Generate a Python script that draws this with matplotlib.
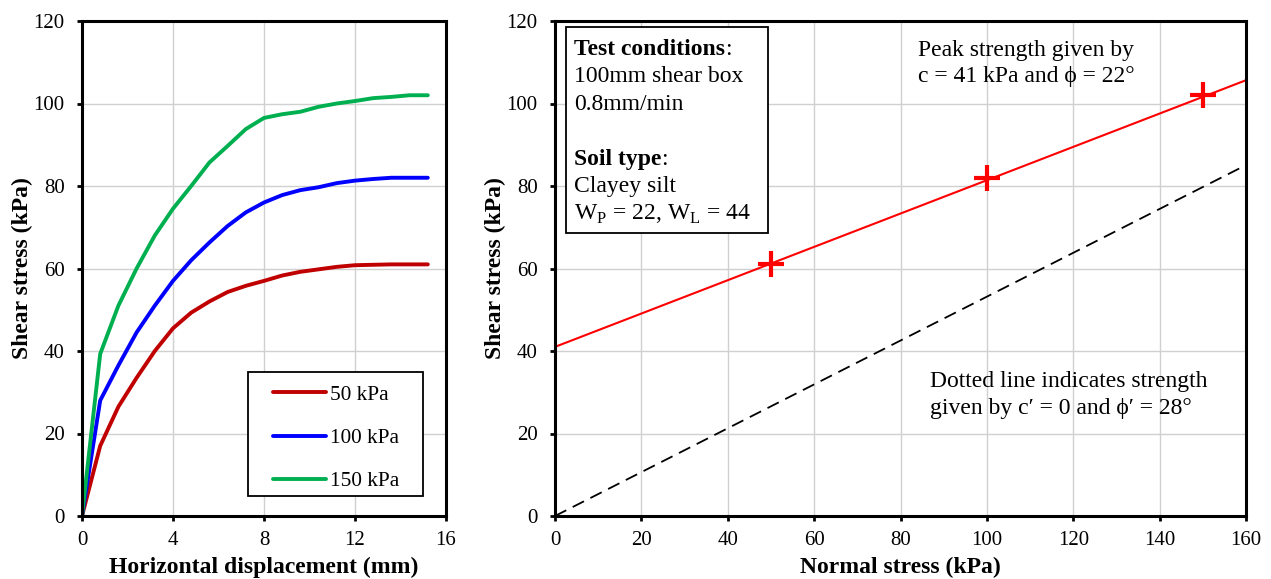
import numpy as np
import matplotlib
matplotlib.use('Agg')
import matplotlib.pyplot as plt
from matplotlib.patches import Rectangle

plt.rcParams['font.family'] = ['Liberation Serif', 'DejaVu Serif']
plt.rcParams['mathtext.fontset'] = 'custom'
plt.rcParams['mathtext.rm'] = 'Liberation Serif'
plt.rcParams['font.size'] = 15

# horizontal displacement (mm)
disp = [0, 0.8, 1.6, 2.4, 3.2, 4.0, 4.8, 5.6, 6.4, 7.2, 8.0, 8.8, 9.6, 10.4,
        11.2, 12.0, 12.8, 13.6, 14.4, 15.2]
tau_50 = [0, 17, 26.5, 33.5, 40, 45.5, 49.3, 52, 54.3, 55.8, 57, 58.3, 59.2,
          59.8, 60.4, 60.8, 60.9, 61, 61, 61]
tau_100 = [0, 28, 36.5, 44.5, 51, 57, 62, 66.3, 70.3, 73.6, 76, 77.8, 79,
           79.7, 80.7, 81.3, 81.7, 82, 82, 82]
tau_150 = [0, 39.3, 51, 60, 68, 74.5, 80, 85.7, 89.7, 93.8, 96.5, 97.4, 98,
           99.2, 100, 100.6, 101.3, 101.6, 102, 102]
series_labels = ['50 kPa', '100 kPa', '150 kPa']
series_colors = ['#C00000', '#0000FF', '#00B050']

# peak points
normal = [50, 100, 150]
peak = [61, 82, 102]
c_peak, phi_peak = 41, 22
c_eff, phi_eff = 0, 28

fig = plt.figure(figsize=(12.71, 5.79), dpi=100)
ax1 = fig.add_axes([82 / 1271, 1 - 516 / 579, 364 / 1271, 495 / 579])
ax2 = fig.add_axes([555 / 1271, 1 - 516 / 579, 691 / 1271, 495 / 579])


def style(ax):
    for s in ax.spines.values():
        s.set_linewidth(2.2)
    ax.tick_params(direction='out', length=3.5, width=2, labelsize=15, pad=9)
    ax.tick_params(axis='x', pad=7)
    ax.grid(True, color='#D0D0D0', linewidth=1)
    ax.set_axisbelow(True)


for y, lab, col in zip([tau_50, tau_100, tau_150], series_labels, series_colors):
    ax1.plot(disp, y, color=col, lw=2.8, label=lab, solid_capstyle='round')
ax1.set_xlim(0, 16)
ax1.set_ylim(0, 120)
ax1.set_xticks(np.arange(0, 17, 4))
ax1.set_yticks(np.arange(0, 121, 20))
ax1.set_xlabel('Horizontal displacement (mm)', fontweight='bold', fontsize=17, labelpad=5)
ax1.set_ylabel('Shear stress (kPa)', fontweight='bold', fontsize=17, labelpad=0)
style(ax1)
# legend frame drawn separately so its margins match
ax1.add_patch(Rectangle((0.456, 0.040), 0.481, 0.251, transform=ax1.transAxes,
                        facecolor='white', edgecolor='black', lw=1.3, zorder=4))
leg = ax1.legend(loc='upper left', bbox_to_anchor=(0.495, 0.286), frameon=False,
                 handlelength=2.5, labelspacing=1.1, borderpad=0,
                 handletextpad=0.2, fontsize=15.3)
leg.set_zorder(5)

xs = np.array([0, 160])
ax2.plot(xs, c_peak + xs * np.tan(np.radians(phi_peak)), color='#FF0000', lw=1.5)
ax2.plot(xs, c_eff + xs * np.tan(np.radians(phi_eff)), color='black', lw=1.3,
         dashes=(7, 4))
ax2.plot(normal, peak, ls='none', marker='+', color='#FF0000', ms=19, mew=3)
ax2.set_xlim(0, 160)
ax2.set_ylim(0, 120)
ax2.set_xticks(np.arange(0, 161, 20))
ax2.set_yticks(np.arange(0, 121, 20))
ax2.set_xlabel('Normal stress (kPa)', fontweight='bold', fontsize=17, labelpad=5)
ax2.set_ylabel('Shear stress (kPa)', fontweight='bold', fontsize=17, labelpad=0)
style(ax2)

ax2.add_patch(Rectangle((0.016, 0.572), 0.292, 0.416, transform=ax2.transAxes,
                        facecolor='white', edgecolor='black', lw=1.3, zorder=5))
tx = 0.027
fs = 17
lines = [(0.943, 'Test conditions', True), (0.887, '100mm shear box', False),
         (0.831, '0.8mm/min', False), (0.720, 'Soil type', True),
         (0.665, 'Clayey silt', False)]
for yy, s, b in lines:
    t = ax2.text(tx, yy, s, transform=ax2.transAxes, fontsize=fs, va='center',
                 fontweight='bold' if b else 'normal', zorder=6)
    if b:
        fig.canvas.draw()
        bb = t.get_window_extent().transformed(ax2.transAxes.inverted())
        ax2.text(bb.x1, yy, ':', transform=ax2.transAxes, fontsize=fs, va='center', zorder=6)
ax2.text(tx, 0.610, r'W$_\mathregular{P}$ = 22, W$_\mathregular{L}$ = 44',
         transform=ax2.transAxes, fontsize=fs, va='center', zorder=6)

ax2.text(0.525, 0.962, 'Peak strength given by\nc = 41 kPa and \u03d5 = 22\u00b0',
         transform=ax2.transAxes, fontsize=fs, va='top', linespacing=1.32)
ax2.text(0.543, 0.292, 'Dotted line indicates strength\ngiven by c\u2032 = 0 and \u03d5\u2032 = 28\u00b0',
         transform=ax2.transAxes, fontsize=fs, va='top', linespacing=1.32)

fig.savefig('out.png', dpi=100)
